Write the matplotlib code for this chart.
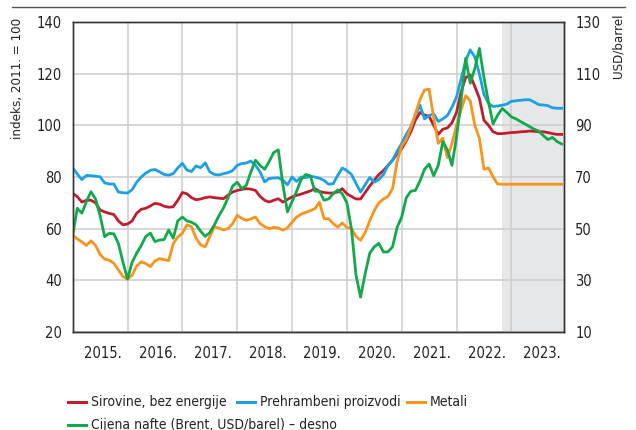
import numpy as np
import matplotlib
matplotlib.use("Agg")
import matplotlib.pyplot as plt
from matplotlib.lines import Line2D

plt.rcParams['font.family'] = ['DejaVu Sans']
plt.rcParams['font.stretch'] = 'condensed'

# monthly data, Jan 2015 - Dec 2023
start_year = 2015
years = list(range(2015, 2024))
year_labels = [f"{y}." for y in years]

sirovine = [
    73.7, 72.4, 70.3, 71.0, 71.0, 70.0, 67.2, 66.5, 65.9, 65.5, 63.0, 61.5,
    61.8, 63.0, 66.0, 67.5, 67.9, 68.8, 69.8, 69.5, 68.7, 68.3, 68.5, 71.0,
    74.0, 73.5, 72.0, 71.2, 71.5, 72.0, 72.3, 72.0, 71.8, 71.6, 73.0, 74.2,
    74.8, 75.2, 75.5, 75.3, 74.8, 72.5, 71.0, 70.3, 71.0, 71.6, 70.3, 71.3,
    72.3, 72.9, 73.4, 74.0, 74.6, 75.5, 74.4, 74.0, 73.8, 73.8, 74.2, 75.5,
    73.5, 72.5, 71.5, 71.5, 74.0, 76.5, 78.8, 81.0, 82.5, 84.5, 86.5, 89.0,
    91.0, 94.0, 97.5, 102.0, 105.0, 104.0, 103.5, 100.0, 96.5, 98.5, 99.0, 101.0,
    105.0, 113.0, 118.5, 119.5, 115.0, 110.5, 102.0, 100.0, 97.5, 96.8, 96.8, 97.0,
    97.2, 97.3, 97.5, 97.6, 97.8, 97.7, 97.5, 97.5, 97.2, 96.8, 96.5, 96.5]

hrana = [
    83.6, 81.2, 79.0, 80.6, 80.5, 80.3, 80.1, 77.7, 77.3, 77.3, 74.2, 73.9,
    73.8, 75.1, 78.0, 80.0, 81.5, 82.6, 82.9, 82.0, 81.0, 80.7, 81.3, 83.5,
    85.3, 82.7, 82.1, 84.3, 83.6, 85.5, 82.0, 81.0, 80.8, 81.3, 81.7, 82.5,
    84.5, 85.2, 85.4, 86.2, 84.5, 82.0, 78.1, 79.4, 79.6, 79.7, 78.7, 77.0,
    80.0, 78.3, 80.0, 79.7, 80.3, 80.0, 79.5, 78.7, 77.2, 77.4, 80.6, 83.5,
    82.5, 81.0, 77.5, 74.2, 77.0, 79.8, 78.0, 79.0, 81.0, 84.5, 86.5, 90.0,
    93.0, 96.5, 99.5, 104.0, 107.8, 102.5, 103.8, 104.5, 101.5, 102.5, 103.8, 107.0,
    111.0, 118.0, 125.0, 129.2, 126.5, 120.0, 112.0, 108.5, 107.3, 107.5, 107.8, 108.2,
    109.3, 109.5, 109.7, 109.9, 109.9, 109.0, 108.0, 107.9, 107.6, 106.8, 106.6, 106.6]

metali = [
    57.5, 56.0, 54.9, 53.5, 55.3, 53.5, 50.0, 48.2, 47.8, 46.6, 44.0, 41.5,
    40.5, 42.0, 45.5, 47.2, 46.5, 45.3, 47.5, 48.4, 48.0, 47.6, 54.2, 56.8,
    58.2, 61.5, 60.8, 56.3, 53.7, 53.0, 56.9, 60.8, 60.2, 59.5, 60.0, 61.9,
    65.2, 64.0, 63.2, 63.8, 64.5, 62.0, 60.8, 60.0, 60.5, 60.3, 59.4, 60.3,
    62.5, 64.5, 65.6, 66.3, 67.0, 67.7, 70.3, 63.9, 63.9, 62.0, 60.6, 62.2,
    60.5, 60.0, 57.0, 55.5, 58.5, 63.0, 67.0, 70.0, 71.5, 72.5, 75.5, 86.0,
    92.0, 94.5, 99.0, 104.5, 110.0, 113.7, 114.0, 103.0, 93.0, 95.0, 87.5, 93.0,
    100.0, 106.0, 111.5, 109.5, 100.0, 95.0, 83.0, 83.5, 80.0, 77.3, 77.2, 77.2,
    77.2, 77.2, 77.2, 77.2, 77.2, 77.2, 77.2, 77.2, 77.2, 77.2, 77.2, 77.2]

nafta = [
    47.5, 57.9, 56.0, 60.5, 64.3, 61.5, 55.0, 46.9, 48.2, 48.0, 44.3, 37.0,
    30.5, 37.0, 40.5, 43.5, 47.0, 48.3, 45.0, 45.6, 45.8, 49.5, 46.3, 53.0,
    54.5, 53.0, 52.5, 51.5, 49.0, 47.0, 48.5, 51.5, 55.0, 58.0, 62.0, 66.5,
    68.0, 65.5, 66.8, 72.0, 76.5, 74.5, 73.0, 76.0, 79.5, 80.5, 67.0, 56.5,
    60.5, 64.5, 69.0, 71.0, 70.5, 64.5, 64.5, 61.0, 61.5, 63.5, 65.0, 63.5,
    60.0, 50.0, 32.0, 23.5, 32.5, 40.5, 43.0, 44.3, 41.0, 41.0, 43.0, 50.5,
    54.5, 62.0, 64.5, 64.8, 68.5, 73.0, 75.0, 70.5, 74.5, 83.7, 80.5, 74.5,
    85.5, 99.5, 116.0, 106.3, 112.0, 119.8, 108.5, 99.0, 90.5, 94.0, 96.5, 95.0,
    93.3, 92.5, 91.5, 90.5, 89.5, 88.5, 87.8, 86.0, 84.5, 85.3, 83.7, 82.8]

projekcija_od = 2022.83

x = start_year + np.arange(len(sirovine)) / 12

fig = plt.figure(figsize=(6.36, 4.30), dpi=100)
ax = fig.add_axes([0.1143, 0.2279, 0.7725, 0.7209])
ax2 = ax.twinx()

red = '#be1e2d'
blue = '#1ba1e2'
orange = '#f7941d'
green = '#12a84b'

ax.axvspan(projekcija_od, 2024, color='#e6e7e8', zorder=0, lw=0)
ax.plot(x, sirovine, color=red, lw=2.0, zorder=3)
ax.plot(x, hrana, color=blue, lw=2.0, zorder=3)
ax.plot(x, metali, color=orange, lw=2.0, zorder=3)
ax2.plot(x, nafta, color=green, lw=2.0)

ax.set_xlim(2015, 2023.96)
ax.set_ylim(20, 140)
ax2.set_ylim(10, 130)
ax.set_yticks(range(20, 141, 20))
ax2.set_yticks(range(10, 131, 20))
ax.set_xticks([y + 0.55 for y in years], year_labels)
ax.set_xticks(range(2016, 2024), minor=True)

ax.set_axisbelow(True)
ax.grid(axis='y', which='major', color='#cccccc', lw=1.1)
ax.grid(axis='x', which='minor', color='#cccccc', lw=1.1)

fs = 10.5
for a in (ax, ax2):
    a.tick_params(which='both', length=0, labelsize=fs, colors='#222222')
    for s in a.spines.values():
        s.set_color('#333333')
        s.set_linewidth(1.0)
ax.tick_params(axis='y', pad=8)
ax2.tick_params(axis='y', pad=8)
ax.tick_params(axis='x', pad=10)

fig.text(18 / 636, 1 - 18 / 430, 'indeks, 2011. = 100', rotation=90,
         ha='center', va='top', fontsize=9.5, color='#222222')
fig.text(618 / 636, 1 - 14 / 430, 'USD/barrel', rotation=90,
         ha='center', va='top', fontsize=9.5, color='#222222')

# top rule
fig.add_artist(Line2D([12 / 636, 625 / 636], [1 - 7 / 430, 1 - 7 / 430],
                      color='#555555', lw=1.0, transform=fig.transFigure))

# legend drawn by hand to match the column positions
legend_items = [
    (red, 'Sirovine, bez energije', 68, 402),
    (blue, 'Prehrambeni proizvodi', 237, 402),
    (orange, 'Metali', 407, 402),
    (green, 'Cijena nafte (Brent, USD/barel) – desno', 68, 425),
]
for col, lab, px, py in legend_items:
    yy = 1 - py / 430
    fig.add_artist(Line2D([px / 636, (px + 18) / 636], [yy, yy], color=col,
                          lw=2.2, transform=fig.transFigure))
    fig.text((px + 23) / 636, yy, lab, ha='left', va='center',
             fontsize=10, color='#222222')

fig.savefig('out.png', dpi=100)
